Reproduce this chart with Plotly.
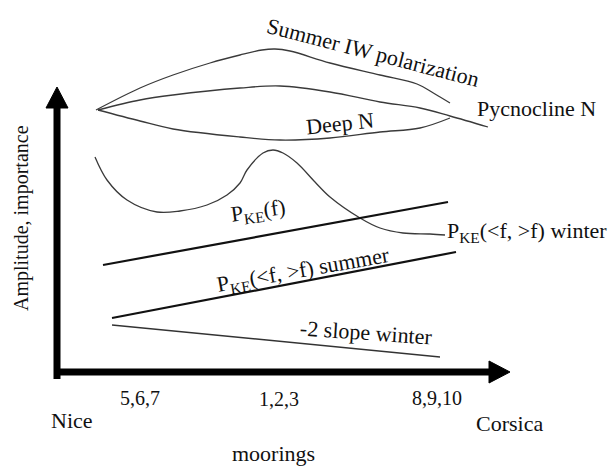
import plotly.graph_objects as go

# Schematic coordinates (x to the right, y downward on the page frame)
summer_iw_x = [96, 140, 173, 210, 240, 262, 275, 290, 330, 380, 417, 435, 450]
summer_iw_y = [110, 88, 75, 63, 55, 50, 49, 51, 63, 75, 84, 94, 103]

pycnocline_x = [98, 140, 173, 240, 280, 330, 380, 420, 450, 488]
pycnocline_y = [110, 100, 95, 88, 86, 92, 102, 108, 116, 127]

deep_n_x = [98, 140, 173, 240, 280, 330, 380, 420, 450]
deep_n_y = [110, 121, 129, 137, 140, 138, 132, 128, 118]

pke_winter_x = [95, 107, 127, 157, 180, 207, 227, 240, 247, 263, 273, 283, 297, 315, 330, 360, 380, 403, 430, 445]
pke_winter_y = [157, 180, 200, 212, 211, 205, 195, 183, 170, 153, 150, 153, 163, 182, 197, 218, 228, 233, 234, 235]

pke_f_x = [103, 448]
pke_f_y = [265, 202]

pke_summer_x = [112, 456]
pke_summer_y = [318, 252]

slope_winter_x = [112, 440]
slope_winter_y = [325, 357]

# axes of the schematic
y_axis_x = 57
y_axis_bottom = 379
y_axis_tip = 87
x_axis_y = 372
x_axis_left = 54
x_axis_tip = 510
head_len = 21
head_half = 11

tick_labels = ["5,6,7", "1,2,3", "8,9,10"]
tick_x = [140, 279, 437]
tick_y = [398, 399, 398]

FONT = "Liberation Serif, Times New Roman, serif"
thin = dict(color="#3a3a3a", width=1.3)
thick = dict(color="#111111", width=2.2)

fig = go.Figure()

def curve(x, y, line, spline=True):
    fig.add_trace(go.Scatter(x=x, y=y, mode="lines",
                             line=dict(shape="spline" if spline else "linear", smoothing=1.0, **line),
                             hoverinfo="skip", showlegend=False))

curve(summer_iw_x, summer_iw_y, thin)
curve(pycnocline_x, pycnocline_y, thin)
curve(deep_n_x, deep_n_y, thin)
curve(pke_winter_x, pke_winter_y, thin)
curve(pke_f_x, pke_f_y, thick, False)
curve(pke_summer_x, pke_summer_y, thick, False)
curve(slope_winter_x, slope_winter_y, dict(color="#333333", width=1.5), False)

# axis shafts
fig.add_trace(go.Scatter(x=[y_axis_x, y_axis_x], y=[y_axis_bottom, y_axis_tip + head_len - 1],
                         mode="lines", line=dict(color="black", width=7),
                         hoverinfo="skip", showlegend=False))
fig.add_trace(go.Scatter(x=[x_axis_left, x_axis_tip - head_len + 1], y=[x_axis_y, x_axis_y],
                         mode="lines", line=dict(color="black", width=7),
                         hoverinfo="skip", showlegend=False))
# arrow heads
fig.add_trace(go.Scatter(
    x=[y_axis_x - head_half, y_axis_x, y_axis_x + head_half, y_axis_x - head_half],
    y=[y_axis_tip + head_len, y_axis_tip, y_axis_tip + head_len, y_axis_tip + head_len],
    mode="lines", fill="toself", fillcolor="black", line=dict(color="black", width=1),
    hoverinfo="skip", showlegend=False))
fig.add_trace(go.Scatter(
    x=[x_axis_tip - head_len, x_axis_tip, x_axis_tip - head_len, x_axis_tip - head_len],
    y=[x_axis_y - head_half, x_axis_y, x_axis_y + head_half, x_axis_y - head_half],
    mode="lines", fill="toself", fillcolor="black", line=dict(color="black", width=1),
    hoverinfo="skip", showlegend=False))

def label(text, x, y, size=22, angle=0):
    fig.add_annotation(x=x, y=y, text=text, showarrow=False, textangle=angle,
                       xanchor="center", yanchor="middle", borderpad=0,
                       font=dict(family=FONT, size=size, color="#111111"))

label("Summer IW polarization", 373, 52, 22, 14.5)
label("Pycnocline N", 536, 108, 22)
label("Deep N", 340, 123, 22, -6)
label("P<sub>KE</sub>(f)", 258, 212, 22, -8)
label("P<sub>KE</sub>(&lt;f, &gt;f) winter", 527, 232, 22)
label("P<sub>KE</sub>(&lt;f, &gt;f) summer", 303, 271, 22, -10)
label("-2 slope winter", 366, 332, 22, 4)

for t, x, y in zip(tick_labels, tick_x, tick_y):
    label(t, x, y, 20)
label("Nice", 72, 420, 22)
label("Corsica", 509, 423, 22)
label("moorings", 273, 453, 22)
label("Amplitude, importance", 21, 218, 20, -90)

fig.update_layout(
    width=610, height=466,
    margin=dict(l=0, r=0, t=0, b=0),
    paper_bgcolor="white", plot_bgcolor="white",
    xaxis=dict(range=[0, 610], visible=False, fixedrange=True),
    yaxis=dict(range=[466, 0], visible=False, fixedrange=True),
    showlegend=False,
)

fig.write_html("out.html", config={"displayModeBar": False, "staticPlot": True},
               post_script="document.body.style.margin='0px';document.body.style.overflow='hidden';")
